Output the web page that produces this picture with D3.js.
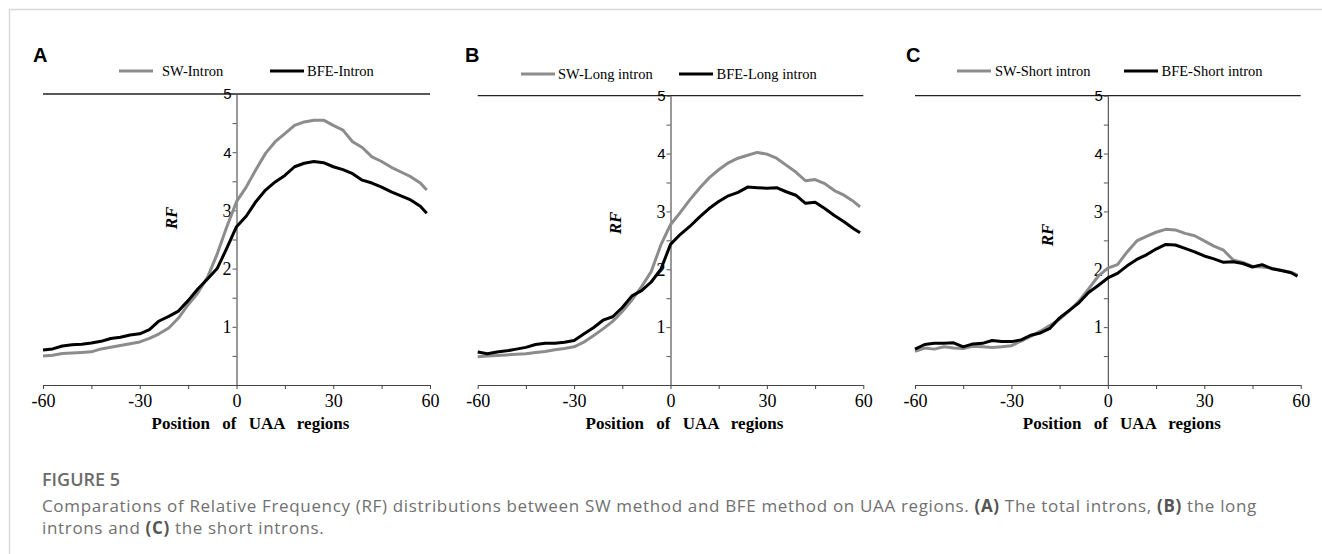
<!DOCTYPE html>
<html>
<head>
<meta charset="utf-8">
<script src="https://cdn.jsdelivr.net/npm/d3@7"></script>
<style>
  body { margin: 0; background: #fff; }
  svg { display: block; }
</style>
</head>
<body>
<svg id="fig" width="1322" height="554"></svg>
<script>
// positions along the UAA region (every 3 nt, last point at 59)
const positions = [-60, -57, -54, -51, -48, -45, -42, -39, -36, -33, -30, -27, -24, -21, -18, -15, -12, -9, -6, -3,
  0, 3, 6, 9, 12, 15, 18, 21, 24, 27, 30, 33, 36, 39, 42, 45, 48, 51, 54, 57, 59];

const swIntron = [0.50, 0.51, 0.54, 0.55, 0.56, 0.57, 0.62, 0.65, 0.68, 0.71, 0.74, 0.80, 0.88, 0.98, 1.15, 1.38, 1.58, 1.85, 2.25, 2.72,
  3.15, 3.40, 3.70, 3.98, 4.18, 4.32, 4.46, 4.52, 4.55, 4.55, 4.46, 4.38, 4.18, 4.08, 3.92, 3.84, 3.74, 3.66, 3.58, 3.47, 3.35];
const bfeIntron = [0.60, 0.62, 0.67, 0.69, 0.70, 0.72, 0.75, 0.80, 0.82, 0.86, 0.88, 0.95, 1.10, 1.18, 1.27, 1.45, 1.65, 1.82, 2.00, 2.35,
  2.72, 2.90, 3.15, 3.35, 3.49, 3.60, 3.75, 3.81, 3.84, 3.82, 3.75, 3.70, 3.63, 3.52, 3.47, 3.40, 3.32, 3.25, 3.18, 3.07, 2.95];

const swLong = [0.49, 0.50, 0.51, 0.52, 0.53, 0.54, 0.56, 0.58, 0.61, 0.63, 0.66, 0.74, 0.85, 0.97, 1.10, 1.27, 1.47, 1.70, 1.96, 2.42,
  2.77, 2.98, 3.20, 3.40, 3.58, 3.72, 3.84, 3.92, 3.97, 4.02, 3.99, 3.92, 3.80, 3.68, 3.53, 3.55, 3.48, 3.36, 3.28, 3.17, 3.08];
const bfeLong = [0.57, 0.54, 0.57, 0.59, 0.62, 0.65, 0.70, 0.72, 0.72, 0.74, 0.77, 0.88, 0.99, 1.12, 1.18, 1.34, 1.54, 1.63, 1.78, 2.00,
  2.43, 2.60, 2.74, 2.90, 3.05, 3.17, 3.27, 3.33, 3.42, 3.41, 3.40, 3.41, 3.34, 3.28, 3.14, 3.16, 3.05, 2.93, 2.82, 2.70, 2.63];

const swShort = [0.58, 0.64, 0.62, 0.66, 0.64, 0.63, 0.67, 0.66, 0.65, 0.66, 0.68, 0.76, 0.84, 0.93, 1.03, 1.14, 1.28, 1.45, 1.66, 1.88,
  2.02, 2.08, 2.30, 2.49, 2.57, 2.64, 2.69, 2.68, 2.62, 2.58, 2.49, 2.40, 2.33, 2.16, 2.12, 2.05, 2.04, 2.02, 1.98, 1.95, 1.90];
const bfeShort = [0.62, 0.70, 0.72, 0.72, 0.73, 0.66, 0.71, 0.72, 0.77, 0.75, 0.75, 0.78, 0.86, 0.90, 0.98, 1.16, 1.29, 1.42, 1.60, 1.72,
  1.85, 1.93, 2.06, 2.17, 2.25, 2.35, 2.43, 2.42, 2.36, 2.30, 2.23, 2.18, 2.12, 2.13, 2.10, 2.04, 2.08, 2.01, 1.98, 1.94, 1.88];

const xTicks = [-60, -45, -30, -15, 0, 15, 30, 45, 60];
const yTicks = [0.5, 1, 1.5, 2, 2.5, 3, 3.5, 4, 4.5, 5];

const panels = [
  {letter: 'A', labels: ['SW-Intron', 'BFE-Intron'], sw: swIntron, bfe: bfeIntron,
   x0: 43, x1: 430, yTop: 94, yBot: 385,
   lg: {g1: 119, t1: 162, g2: 270, t2: 307, y: 71}, letterX: 33, rf: {dx: -60, y: 218}, titleDx: -85},
  {letter: 'B', labels: ['SW-Long intron', 'BFE-Long intron'], sw: swLong, bfe: bfeLong,
   x0: 477.7, x1: 863.3, yTop: 95.7, yBot: 385,
   lg: {g1: 521, t1: 558, g2: 679, t2: 716.5, y: 74}, letterX: 465, rf: {dx: -50, y: 223}, titleDx: -85},
  {letter: 'C', labels: ['SW-Short intron', 'BFE-Short intron'], sw: swShort, bfe: bfeShort,
   x0: 915, x1: 1300.7, yTop: 95.7, yBot: 385,
   lg: {g1: 957, t1: 995, g2: 1124, t2: 1161.5, y: 71}, letterX: 906, rf: {dx: -55, y: 235}, titleDx: -85}
];

const svg = d3.select('#fig');

// page frame
svg.append('path')
  .attr('d', 'M9.5,554 V9.5 H1322')
  .attr('fill', 'none')
  .attr('stroke', '#d9d9d9')
  .attr('stroke-width', 1.5);

const serif = '"Liberation Serif", "Times New Roman", serif';
const sans = '"Liberation Sans", Arial, sans-serif';

panels.forEach(p => {
  const x = d3.scaleLinear().domain([-60, 60]).range([p.x0, p.x1]);
  const y = d3.scaleLinear().domain([0, 5]).range([p.yBot, p.yTop]);
  const g = svg.append('g');

  // panel letter
  g.append('text')
    .attr('x', p.letterX).attr('y', 62)
    .style('font', `bold 20px ${sans}`)
    .text(p.letter);

  // legend
  const lg = p.lg;
  [[lg.g1, lg.t1, '#8c8c8c', p.labels[0]], [lg.g2, lg.t2, '#000', p.labels[1]]].forEach(([gx, tx, col, lab]) => {
    g.append('line')
      .attr('x1', gx).attr('x2', gx + 34)
      .attr('y1', lg.y).attr('y2', lg.y)
      .attr('stroke', col).attr('stroke-width', 3);
    g.append('text')
      .attr('x', tx).attr('y', lg.y + 5)
      .style('font', `14.5px ${serif}`)
      .text(lab);
  });

  // top line at RF = 5
  g.append('line')
    .attr('x1', p.x0).attr('x2', p.x1)
    .attr('y1', y(5)).attr('y2', y(5))
    .attr('stroke', '#222').attr('stroke-width', 1.3);

  // x axis
  const xAxis = g.append('g')
    .attr('transform', `translate(0,${p.yBot})`)
    .call(d3.axisBottom(x).tickValues(xTicks).tickSize(4).tickSizeOuter(0)
      .tickFormat(d => d % 30 === 0 ? d : ''));
  xAxis.select('.domain').attr('stroke', '#444').attr('stroke-width', 1.2);
  xAxis.selectAll('.tick line').attr('stroke', '#444');
  xAxis.selectAll('text')
    .attr('y', 9.5)
    .attr('fill', '#000')
    .style('font', `18px ${serif}`);

  // y axis through 0
  const yAxis = g.append('g')
    .attr('transform', `translate(${x(0)},0)`)
    .call(d3.axisLeft(y).tickValues(yTicks).tickSize(4).tickSizeOuter(0)
      .tickFormat(d => Number.isInteger(d) ? d : ''));
  yAxis.select('.domain').attr('stroke', '#555').attr('stroke-width', 1.2);
  yAxis.selectAll('.tick line').attr('stroke', '#555');
  yAxis.selectAll('text')
    .attr('x', -5)
    .attr('fill', '#000')
    .style('font', d => d >= 4 ? `15px ${sans}` : `18px ${serif}`);

  // RF label
  g.append('text')
    .attr('transform', `translate(${x(0) + p.rf.dx},${p.rf.y}) rotate(-90)`)
    .attr('text-anchor', 'middle')
    .style('font', `italic bold 17px ${serif}`)
    .text('RF');

  // axis title
  g.append('text')
    .attr('x', x(0) + p.titleDx).attr('y', 429)
    .style('font', `bold 17px ${serif}`)
    .style('word-spacing', '8px')
    .text('Position of UAA regions');

  // series
  const line = d3.line()
    .x((d, i) => x(positions[i]))
    .y(d => y(d));

  g.append('path')
    .datum(p.sw)
    .attr('d', line)
    .attr('fill', 'none')
    .attr('stroke', '#8c8c8c')
    .attr('stroke-width', 3)
    .attr('stroke-linejoin', 'round');

  g.append('path')
    .datum(p.bfe)
    .attr('d', line)
    .attr('fill', 'none')
    .attr('stroke', '#000')
    .attr('stroke-width', 3)
    .attr('stroke-linejoin', 'round');
});

// caption
const capFont = '"Open Sans", "Noto Sans", sans-serif';
svg.append('text')
  .attr('x', 42).attr('y', 486)
  .attr('fill', '#6b6b6b')
  .style('font', `600 18px ${capFont}`)
  .text('FIGURE 5');

const cap1 = svg.append('text')
  .attr('x', 42).attr('y', 512)
  .attr('fill', '#707070')
  .style('font', `17px ${capFont}`);
cap1.append('tspan').text('Comparations of Relative Frequency (RF) distributions between SW method and BFE method on UAA regions. ');
cap1.append('tspan').style('font-weight', 700).attr('fill', '#555').text('(A)');
cap1.append('tspan').text(' The total introns, ');
cap1.append('tspan').style('font-weight', 700).attr('fill', '#555').text('(B)');
cap1.append('tspan').text(' the long');

const cap2 = svg.append('text')
  .attr('x', 42).attr('y', 534)
  .attr('fill', '#707070')
  .style('font', `17px ${capFont}`);
cap2.append('tspan').text('introns and ');
cap2.append('tspan').style('font-weight', 700).attr('fill', '#555').text('(C)');
cap2.append('tspan').text(' the short introns.');

// spread the first caption line so it ends where the reference line ends
const capWidth = cap1.node().getComputedTextLength();
const nChars = cap1.text().length;
const spacing = Math.max(0, (1215 - capWidth) / nChars);
cap1.style('letter-spacing', spacing + 'px');
cap2.style('letter-spacing', spacing + 'px');
</script>
</body>
</html>
